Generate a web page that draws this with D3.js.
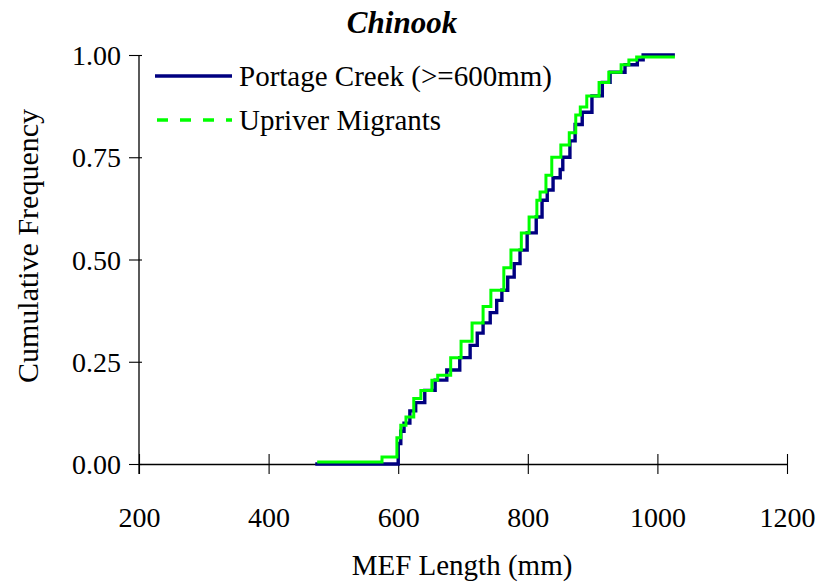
<!DOCTYPE html>
<html>
<head>
<meta charset="utf-8">
<script src="https://cdn.jsdelivr.net/npm/d3@7"></script>
<style>
  body { margin: 0; background: #fff; }
  text { font-family: "Liberation Serif", "Times New Roman", serif; fill: #000; }
</style>
</head>
<body>
<div id="chart"></div>
<script>
// Portage Creek (>=600mm): MEF length (mm) and cumulative frequency
var portageLength = [472, 600, 604, 609, 618, 627, 641, 657, 675, 695, 711, 722, 731, 742, 752, 760, 769, 779, 788, 799, 813, 822, 830, 839, 850, 854, 865, 873, 884, 899, 915, 927, 950, 969, 978, 1027];
var portageFreq   = [0, 0.05, 0.08, 0.10, 0.13, 0.15, 0.18, 0.205, 0.23, 0.26, 0.29, 0.32, 0.345, 0.37, 0.40, 0.425, 0.457, 0.49, 0.523, 0.565, 0.604, 0.645, 0.67, 0.70, 0.72, 0.75, 0.79, 0.83, 0.86, 0.90, 0.933, 0.958, 0.976, 0.988, 1.0, 1.0];

// Upriver Migrants
var upriverLength = [475, 575, 598, 604, 612, 624, 635, 652, 661, 681, 697, 714, 731, 743, 763, 774, 790, 802, 814, 819, 828, 837, 851, 864, 874, 881, 891, 910, 925, 944, 956, 968, 1027];
var upriverFreq   = [0.005, 0.017, 0.064, 0.095, 0.115, 0.16, 0.18, 0.205, 0.217, 0.26, 0.30, 0.345, 0.385, 0.425, 0.48, 0.523, 0.565, 0.604, 0.645, 0.665, 0.706, 0.75, 0.78, 0.81, 0.853, 0.873, 0.90, 0.933, 0.958, 0.976, 0.988, 0.995, 0.995];

var xTicks = [200, 400, 600, 800, 1000, 1200];
var yTicks = [0, 0.25, 0.5, 0.75, 1.0];

var width = 818, height = 582;
var margin = { top: 55, right: 31, bottom: 118, left: 139 };

var svg = d3.select("#chart").append("svg")
    .attr("width", width)
    .attr("height", height);

var x = d3.scaleLinear().domain([200, 1200]).range([margin.left, width - margin.right]);
var y = d3.scaleLinear().domain([0, 1]).range([height - margin.bottom, margin.top]);

// x axis: ticks cross the line
var xAxis = svg.append("g")
    .attr("transform", "translate(0," + y(0) + ")")
    .call(d3.axisBottom(x).tickValues(xTicks).tickSize(0).tickFormat(""));
xAxis.select(".domain").attr("stroke", "#000").attr("stroke-width", 1.3);
xAxis.selectAll(".tick").append("line")
    .attr("y1", -10).attr("y2", 10)
    .attr("stroke", "#000").attr("stroke-width", 1.1);
xAxis.selectAll(".tick").append("text")
    .attr("y", 63)
    .attr("text-anchor", "middle")
    .style("font-size", "28px")
    .text(function (d) { return d; });

// y axis
var yAxis = svg.append("g")
    .attr("transform", "translate(" + x(200) + ",0)")
    .call(d3.axisLeft(y).tickValues(yTicks).tickSize(0).tickPadding(18).tickFormat(d3.format(".2f")));
yAxis.select(".domain").attr("stroke", "#000").attr("stroke-width", 1.3).attr("d", "M0," + y(1) + "V" + (y(0) + 10));
yAxis.selectAll(".tick").append("line")
    .attr("x1", -10).attr("x2", 3)
    .attr("stroke", "#000").attr("stroke-width", 1.1);
yAxis.selectAll(".tick text")
    .attr("dy", "0.34em")
    .style("font-size", "28px");

// step lines
var line = d3.line()
    .x(function (d) { return x(d[0]); })
    .y(function (d) { return y(d[1]); })
    .curve(d3.curveStepAfter);

var portage = d3.zip(portageLength, portageFreq);
var upriver = d3.zip(upriverLength, upriverFreq);

svg.append("path")
    .datum(portage)
    .attr("d", line)
    .attr("fill", "none")
    .attr("stroke", "#000080")
    .attr("stroke-width", 3.4);

svg.append("path")
    .datum(upriver)
    .attr("d", line)
    .attr("fill", "none")
    .attr("stroke", "#00ff00")
    .attr("stroke-width", 3);

// legend
var legend = svg.append("g");
legend.append("line")
    .attr("x1", 155).attr("x2", 232).attr("y1", 76).attr("y2", 76)
    .attr("stroke", "#000080").attr("stroke-width", 3.4);
legend.append("text")
    .attr("x", 239).attr("y", 86)
    .style("font-size", "29px")
    .text("Portage Creek (>=600mm)");
legend.append("line")
    .attr("x1", 157).attr("x2", 232).attr("y1", 120).attr("y2", 120)
    .attr("stroke", "#00ff00").attr("stroke-width", 3.4)
    .attr("stroke-dasharray", "11,12");
legend.append("text")
    .attr("x", 239).attr("y", 130)
    .style("font-size", "29px")
    .text("Upriver Migrants");

// title and axis labels
svg.append("text")
    .attr("x", 402).attr("y", 33)
    .attr("text-anchor", "middle")
    .style("font-size", "31px")
    .style("font-weight", "bold")
    .style("font-style", "italic")
    .text("Chinook");

svg.append("text")
    .attr("x", 462).attr("y", 575)
    .attr("text-anchor", "middle")
    .style("font-size", "29px")
    .text("MEF Length (mm)");

svg.append("text")
    .attr("transform", "translate(38," + 246 + ") rotate(-90)")
    .attr("text-anchor", "middle")
    .style("font-size", "30px")
    .text("Cumulative Frequency");
</script>
</body>
</html>
